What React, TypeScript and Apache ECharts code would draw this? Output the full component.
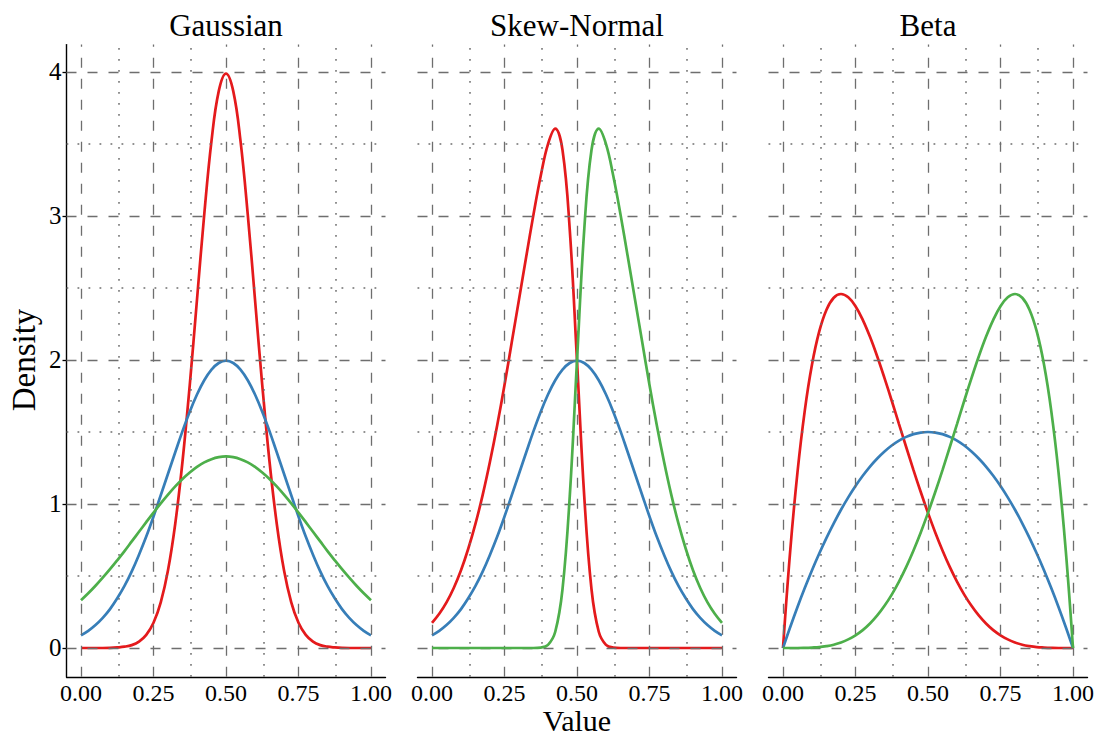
import React, { useEffect, useRef } from "react";
import * as echarts from "echarts";

const panelTitles = ["Gaussian", "Skew-Normal", "Beta"];
const xTicks = [0, 0.25, 0.5, 0.75, 1];
const xMinor = [0.125, 0.375, 0.625, 0.875];
const yTicks = [0, 1, 2, 3, 4];
const yMinor = [0.5, 1.5, 2.5, 3.5];

const xs = [0, 0.025, 0.05, 0.075, 0.1, 0.125, 0.15, 0.175, 0.2, 0.225, 0.25, 0.275, 0.3, 0.325, 0.35, 0.375, 0.4, 0.425, 0.45, 0.475, 0.5,
  0.525, 0.55, 0.575, 0.6, 0.625, 0.65, 0.675, 0.7, 0.725, 0.75, 0.775, 0.8, 0.825, 0.85, 0.875, 0.9, 0.925, 0.95, 0.975, 1];

// Gaussian panel
const gaussRed = [0, 0, 0, 0, 0.001, 0.004, 0.009, 0.02, 0.044, 0.091, 0.175, 0.317, 0.54, 0.863, 1.295, 1.826, 2.42, 3.011, 3.521, 3.867, 3.989,
  3.867, 3.521, 3.011, 2.42, 1.826, 1.295, 0.863, 0.54, 0.317, 0.175, 0.091, 0.044, 0.02, 0.009, 0.004, 0.001, 0, 0, 0, 0];
const gaussBlue = [0.088, 0.119, 0.159, 0.209, 0.27, 0.345, 0.431, 0.532, 0.648, 0.774, 0.913, 1.061, 1.21, 1.359, 1.506, 1.641, 1.76, 1.859, 1.933, 1.979, 1.995,
  1.979, 1.933, 1.859, 1.76, 1.641, 1.506, 1.359, 1.21, 1.061, 0.913, 0.774, 0.648, 0.532, 0.431, 0.345, 0.27, 0.209, 0.159, 0.119, 0.088];
const gaussGreen = [0.332, 0.38, 0.432, 0.488, 0.547, 0.609, 0.673, 0.74, 0.807, 0.874, 0.94, 1.004, 1.065, 1.122, 1.174, 1.219, 1.258, 1.289, 1.311, 1.325, 1.33,
  1.325, 1.311, 1.289, 1.258, 1.219, 1.174, 1.122, 1.065, 1.004, 0.94, 0.874, 0.807, 0.74, 0.673, 0.609, 0.547, 0.488, 0.432, 0.38, 0.332];

// Skew-Normal panel
const skewRed = [0.175, 0.238, 0.317, 0.417, 0.54, 0.689, 0.863, 1.065, 1.295, 1.549, 1.826, 2.123, 2.42, 2.718, 3.011, 3.279, 3.499, 3.606, 3.458, 2.905, 1.995,
  1.053, 0.408, 0.113, 0.022, 0.003, 0, 0, 0, 0, 0, 0, 0, 0, 0, 0, 0, 0, 0, 0, 0];
const skewBlue = [0.088, 0.119, 0.159, 0.209, 0.27, 0.345, 0.431, 0.532, 0.648, 0.774, 0.913, 1.061, 1.21, 1.359, 1.506, 1.641, 1.76, 1.859, 1.933, 1.979, 1.995,
  1.979, 1.933, 1.859, 1.76, 1.641, 1.506, 1.359, 1.21, 1.061, 0.913, 0.774, 0.648, 0.532, 0.431, 0.345, 0.27, 0.209, 0.159, 0.119, 0.088];
const skewGreen = [0, 0, 0, 0, 0, 0, 0, 0, 0, 0, 0, 0, 0, 0, 0, 0.003, 0.022, 0.113, 0.408, 1.053, 1.995,
  2.905, 3.458, 3.606, 3.499, 3.279, 3.011, 2.718, 2.42, 2.123, 1.826, 1.549, 1.295, 1.065, 0.863, 0.689, 0.54, 0.417, 0.317, 0.238, 0.175];

// Beta panel
const betaRed = [0, 0.678, 1.222, 1.647, 1.968, 2.198, 2.349, 2.432, 2.458, 2.435, 2.373, 2.279, 2.161, 2.024, 1.874, 1.717, 1.555, 1.394, 1.235, 1.083, 0.938,
  0.802, 0.677, 0.563, 0.461, 0.371, 0.293, 0.226, 0.17, 0.124, 0.088, 0.06, 0.038, 0.023, 0.013, 0.006, 0.003, 0.001, 0, 0, 0];
const betaBlue = [0, 0.146, 0.285, 0.416, 0.54, 0.656, 0.765, 0.866, 0.96, 1.046, 1.125, 1.196, 1.26, 1.316, 1.365, 1.406, 1.44, 1.466, 1.485, 1.496, 1.5,
  1.496, 1.485, 1.466, 1.44, 1.406, 1.365, 1.316, 1.26, 1.196, 1.125, 1.046, 0.96, 0.866, 0.765, 0.656, 0.54, 0.416, 0.285, 0.146, 0];
const betaGreen = [0, 0, 0, 0.001, 0.003, 0.006, 0.013, 0.023, 0.038, 0.06, 0.088, 0.124, 0.17, 0.226, 0.293, 0.371, 0.461, 0.563, 0.677, 0.802, 0.938,
  1.083, 1.235, 1.394, 1.555, 1.717, 1.874, 2.024, 2.161, 2.279, 2.373, 2.435, 2.458, 2.432, 2.349, 2.198, 1.968, 1.647, 1.222, 0.678, 0];

const panels = [
  [gaussRed, gaussBlue, gaussGreen],
  [skewRed, skewBlue, skewGreen],
  [betaRed, betaBlue, betaGreen],
];
const colors = ["#e41a1c", "#377eb8", "#4daf4a"];

const FONT = '"Liberation Serif", "DejaVu Serif", serif';
const GRID_LEFTS = [66.5, 417.5, 768.5];
const GRID_W = 319;
const GRID_TOP = 44.6;
const GRID_H = 632.2;

export default function App() {
  const ref = useRef<HTMLDivElement>(null);
  useEffect(() => {
    if (!ref.current) return;
    const chart = echarts.init(ref.current, null, { renderer: "svg" });
    const dashed = { type: [10, 11] as any, color: "#6e6e6e", width: 1.3 };
    const dotted = { type: [1.8, 9.2] as any, color: "#6e6e6e", width: 1.5 };

    const grids = GRID_LEFTS.map((l) => ({ left: l, top: GRID_TOP, width: GRID_W, height: GRID_H }));
    const xAxes = GRID_LEFTS.map((_, i) => ({
      type: "value",
      gridIndex: i,
      min: -0.05,
      max: 1.05,
      splitLine: { show: false },
      axisLine: { show: true, onZero: false, lineStyle: { color: "#000", width: 1.4 } },
      axisTick: { show: false },
      axisLabel: {
        show: true,
        customValues: xTicks,
        formatter: (v: number) => v.toFixed(2),
        color: "#000",
        fontFamily: FONT,
        fontSize: 24,
        lineHeight: 20,
        margin: 6,
      },
    }));
    const yAxes = GRID_LEFTS.map((_, i) => ({
      type: "value",
      gridIndex: i,
      min: -0.2,
      max: 4.19,
      show: i === 0,
      splitLine: { show: false },
      axisLine: { show: i === 0, onZero: false, lineStyle: { color: "#000", width: 1.4 } },
      axisTick: { show: i === 0, customValues: yTicks, length: 4, lineStyle: { color: "#000", width: 1.3 } },
      axisLabel: {
        show: i === 0,
        customValues: yTicks,
        formatter: (v: number) => String(v),
        color: "#000",
        fontFamily: FONT,
        fontSize: 25,
        margin: 5,
      },
    }));

    const series: any[] = [];
    panels.forEach((curves, i) => {
      const markData: any[] = [];
      xTicks.forEach((v) => markData.push({ xAxis: v, lineStyle: dashed }));
      xMinor.forEach((v) => markData.push({ xAxis: v, lineStyle: dotted }));
      yTicks.forEach((v) => markData.push({ yAxis: v, lineStyle: dashed }));
      yMinor.forEach((v) => markData.push({ yAxis: v, lineStyle: dotted }));
      series.push({
        type: "line",
        xAxisIndex: i,
        yAxisIndex: i,
        z: 1,
        silent: true,
        symbol: "none",
        data: [[0.5, 0]],
        lineStyle: { width: 0, opacity: 0 },
        markLine: {
          silent: true,
          symbol: ["none", "none"],
          label: { show: false },
          emphasis: { disabled: true },
          data: markData,
        },
      });
      curves.forEach((ys, j) => {
        series.push({
          type: "line",
          xAxisIndex: i,
          yAxisIndex: i,
          z: 3 + j,
          smooth: 0.4,
          symbol: "none",
          silent: true,
          lineStyle: { color: colors[j], width: 2.7 },
          data: xs.map((x, k) => [x, ys[k]]),
        });
      });
    });

    const centers = GRID_LEFTS.map((l) => l + GRID_W / 2);
    const graphic: any[] = panelTitles.map((t, i) => ({
      type: "text",
      x: centers[i],
      y: 25,
      style: { text: t, font: `31px ${FONT}`, fill: "#000", textAlign: "center", textVerticalAlign: "middle" },
    }));
    graphic.push({
      type: "text",
      x: 577,
      y: 720,
      style: { text: "Value", font: `30px ${FONT}`, fill: "#000", textAlign: "center", textVerticalAlign: "middle" },
    });
    graphic.push({
      type: "text",
      x: 24,
      y: 360,
      rotation: Math.PI / 2,
      style: { text: "Density", font: `33px ${FONT}`, fill: "#000", textAlign: "center", textVerticalAlign: "middle" },
    });

    chart.setOption({
      animation: false,
      backgroundColor: "#fff",
      grid: grids,
      xAxis: xAxes,
      yAxis: yAxes,
      series,
      graphic,
    });
    return () => chart.dispose();
  }, []);
  return <div ref={ref} style={{ position: "fixed", left: 0, top: 0, width: 1099, height: 738 }} />;
}
